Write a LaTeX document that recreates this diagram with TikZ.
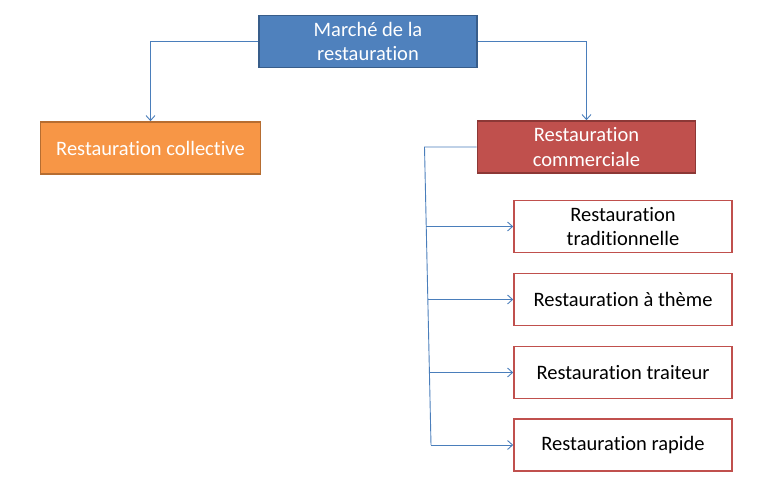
\documentclass[tikz,border=0pt]{standalone}
\usepackage{fontspec}
\setmainfont[Ligatures={NoCommon,NoContextual,NoRare}]{Carlito}
\usetikzlibrary{arrows.meta}
\definecolor{blueF}{HTML}{4F81BD}
\definecolor{blueD}{HTML}{385D8A}
\definecolor{orangeF}{HTML}{F79646}
\definecolor{orangeD}{HTML}{B66D31}
\definecolor{redF}{HTML}{C0504D}
\definecolor{redD}{HTML}{8C3836}
\definecolor{lineC}{HTML}{4A7EBB}
\tikzset{
  box/.style={draw, line width=1.6pt, minimum width=218pt, minimum height=52pt, inner sep=0pt,
    align=center, font=\fontsize{20.5}{24.5}\selectfont},
  topbox/.style={box, fill=blueF, draw=blueD, text=white},
  colbox/.style={box, fill=orangeF, draw=orangeD, text=white},
  combox/.style={box, fill=redF, draw=redD, text=white},
  subbox/.style={box, fill=white, draw=redF, text=black},
  conn/.style={draw=lineC, line width=0.9pt},
  arr/.style={conn, -{Straight Barb[length=5pt,width=9pt]}}
}
\begin{document}
\begin{tikzpicture}[x=1pt,y=-1pt]
\useasboundingbox (0,0) rectangle (758,501);
\node[topbox] (top) at (368,41.5) {Marché de la\\restauration};
\node[colbox, minimum width=220pt] (col) at (150.5,148) {Restauration collective};
\node[combox] (com) at (586.5,147) {Restauration\\commerciale};
\node[subbox] (s1) at (623,226.5) {Restauration\\traditionnelle};
\node[subbox] (s2) at (623,299.5) {Restauration à thème};
\node[subbox] (s3) at (623,372.5) {Restauration traiteur};
\node[subbox] (s4) at (623,445) {Restauration rapide};
\draw[arr] (top.west) -| (col.north);
\draw[arr] (top.east) -| (com.north);
\coordinate (t1) at (424.5,147);
\coordinate (t2) at (431,445);
\coordinate (a1) at (426.2,226.5);
\coordinate (a2) at (427.8,299.5);
\coordinate (a3) at (429.4,372.5);
\draw[conn] (com.west) -- (t1) -- (t2);
\draw[arr] (a1) -- (s1.west);
\draw[arr] (a2) -- (s2.west);
\draw[arr] (a3) -- (s3.west);
\draw[arr] (t2) -- (s4.west);
\end{tikzpicture}
\end{document}
